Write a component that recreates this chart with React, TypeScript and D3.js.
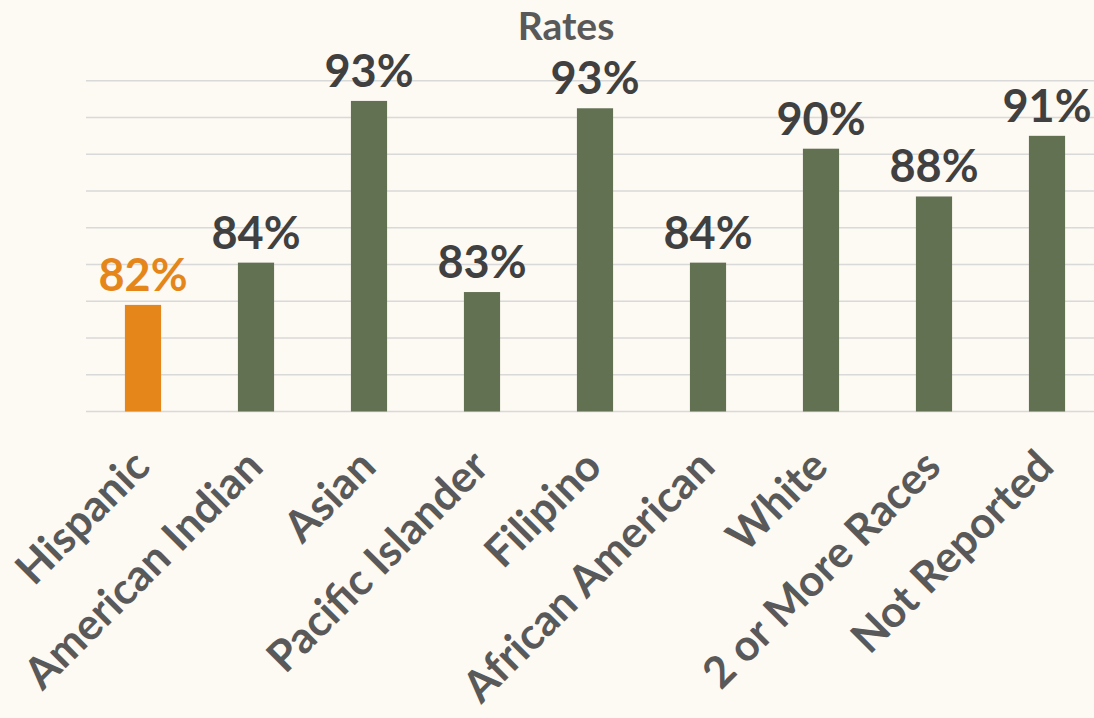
import React, { useEffect, useRef } from "react";
import * as d3 from "d3";

const categories = [
  "Hispanic",
  "American Indian",
  "Asian",
  "Pacific Islander",
  "Filipino",
  "African American",
  "White",
  "2 or More Races",
  "Not Reported",
];
const values = [81.8, 84.1, 92.9, 82.5, 92.5, 84.1, 90.3, 87.7, 91.0];
const highlight = ["Hispanic"];
const yTicks = [76, 78, 80, 82, 84, 86, 88, 90, 92, 94];
const title = "Rates";

const W = 1094;
const H = 718;
const BG = "#fdf9f3";
const GREEN = "#637153";
const ORANGE = "#e5861a";
const FONT = "Lato, 'Open Sans', sans-serif";

export default function App() {
  const ref = useRef<SVGSVGElement | null>(null);

  useEffect(() => {
    document.body.style.margin = "0";
    document.body.style.background = BG;
    const svg = d3.select(ref.current);
    svg.selectAll("*").remove();

    const x = d3
      .scaleBand<string>()
      .domain(categories)
      .range([86.5, 86.5 + 113 * categories.length])
      .paddingInner(0.68)
      .paddingOuter(0.34);
    const y = d3.scaleLinear().domain([76, 94]).range([411.5, 80.7]);

    svg.append("rect").attr("width", W).attr("height", H).attr("fill", BG);

    svg
      .append("g")
      .selectAll("line")
      .data(yTicks)
      .join("line")
      .attr("x1", 86)
      .attr("x2", W)
      .attr("y1", (d) => y(d))
      .attr("y2", (d) => y(d))
      .attr("stroke", "#d9d9d9")
      .attr("stroke-width", 1.5);

    const data = categories.map((c, i) => ({ c, v: values[i] }));

    svg
      .append("g")
      .selectAll("rect")
      .data(data)
      .join("rect")
      .attr("x", (d) => x(d.c)!)
      .attr("width", x.bandwidth())
      .attr("y", (d) => y(d.v))
      .attr("height", (d) => y(76) - y(d.v))
      .attr("fill", (d) => (highlight.includes(d.c) ? ORANGE : GREEN));

    svg
      .append("g")
      .selectAll("text")
      .data(data)
      .join("text")
      .attr("x", (d) => x(d.c)! + x.bandwidth() / 2)
      .attr("y", (d) => y(d.v) - 14)
      .attr("text-anchor", "middle")
      .attr("font-family", FONT)
      .attr("font-weight", 700)
      .attr("font-size", 45)
      .attr("fill", (d) => (highlight.includes(d.c) ? ORANGE : "#404040"))
      .text((d) => `${Math.round(d.v)}%`);

    svg
      .append("g")
      .selectAll("text")
      .data(categories)
      .join("text")
      .attr(
        "transform",
        (d) => `translate(${x(d)! + x.bandwidth() / 2 + 9},469) rotate(-45)`
      )
      .attr("text-anchor", "end")
      .attr("font-family", FONT)
      .attr("font-weight", 700)
      .attr("font-size", 43.5)
      .attr("fill", "#595959")
      .text((d) => d);

    svg
      .append("text")
      .attr("x", 566)
      .attr("y", 39.5)
      .attr("text-anchor", "middle")
      .attr("font-family", FONT)
      .attr("font-weight", 700)
      .attr("font-size", 39)
      .attr("fill", "#595959")
      .text(title);
  }, []);

  return <svg ref={ref} width={W} height={H} style={{ display: "block" }} />;
}
